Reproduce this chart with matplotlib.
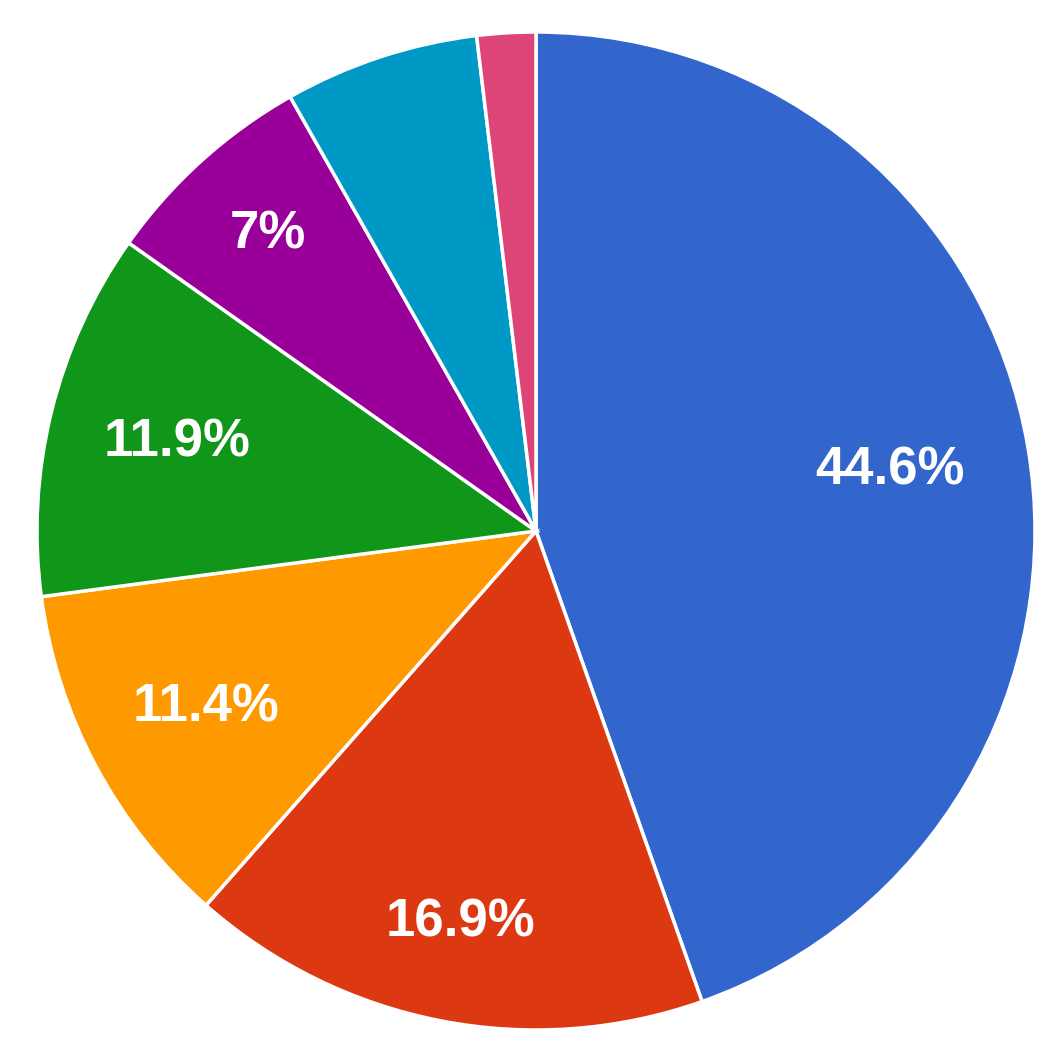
import matplotlib
matplotlib.use("Agg")
import matplotlib.pyplot as plt

labels = ["A", "B", "C", "D", "E", "F", "G"]
values = [44.6, 16.9, 11.4, 11.9, 7.0, 6.3, 1.9]
shown = ["44.6%", "16.9%", "11.4%", "11.9%", "7%", "", ""]
colors = ["#3366cc", "#dc3912", "#ff9900", "#109618", "#990099", "#0099c6", "#dd4477"]

W, H = 1045, 1052
fig = plt.figure(figsize=(W / 100, H / 100), dpi=100)
cx, cy, r = 536, 531, 499
ax = fig.add_axes([(cx - r) / W, (H - cy - r) / H, 2 * r / W, 2 * r / H])

wedges, _ = ax.pie(values, colors=colors, startangle=90, counterclock=False,
                   radius=1.0, wedgeprops=dict(edgecolor="white", linewidth=2.5))

import numpy as np
dists = [0.72, 0.80, 0.75, 0.74, 0.80, 0.75, 0.75]
for w, txt, d in zip(wedges, shown, dists):
    if not txt:
        continue
    ang = np.deg2rad((w.theta1 + w.theta2) / 2)
    ax.text(d * np.cos(ang), d * np.sin(ang), txt, ha="center", va="center",
            color="white", fontsize=38, fontweight="bold", family="Liberation Sans")

ax.set_xlim(-1, 1)
ax.set_ylim(-1, 1)
ax.set_aspect("equal")
ax.axis("off")
fig.savefig("out.png", dpi=100, facecolor="white")
